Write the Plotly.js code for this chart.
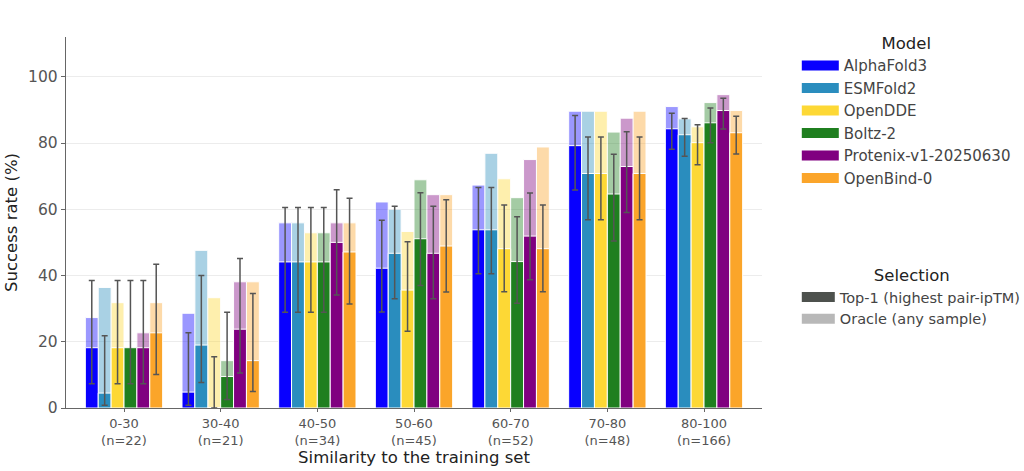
<!DOCTYPE html>
<html>
<head>
<meta charset="utf-8">
<script src="https://cdn.plot.ly/plotly-3.0.1.min.js"></script>
<style>
  html, body { margin: 0; padding: 0; background: #fff; }
  #chart { width: 1024px; height: 471px; }
</style>
</head>
<body>
<div id="chart"></div>
<script>
// similarity bins and number of targets in each
const categories = ['0-30', '30-40', '40-50', '50-60', '60-70', '70-80', '80-100'];
const counts = [22, 21, 34, 45, 52, 48, 166];

const models = ['AlphaFold3', 'ESMFold2', 'OpenDDE', 'Boltz-2', 'Protenix-v1-20250630', 'OpenBind-0'];
const colors = ['#0800ff', '#2a8dbe', '#fdd835', '#1f7f1f', '#800080', '#fba52a'];

// Top-1 (highest pair-ipTM) success rate, %
const top1 = [
  [18.2, 4.8, 44.1, 42.2, 53.8, 79.2, 84.3],
  [4.5, 19.0, 44.1, 46.7, 53.8, 70.8, 82.5],
  [18.2, 0.0, 44.1, 35.6, 48.1, 70.8, 80.1],
  [18.2, 9.5, 44.1, 51.1, 44.2, 64.6, 86.1],
  [18.2, 23.8, 50.0, 46.7, 51.9, 72.9, 89.8],
  [22.7, 14.3, 47.1, 48.9, 48.1, 70.8, 83.1]
];

// Oracle (any sample) success rate, %
const oracle = [
  [27.3, 28.6, 55.9, 62.2, 67.3, 89.6, 91.0],
  [36.4, 47.6, 55.9, 60.0, 76.9, 89.6, 87.3],
  [31.8, 33.3, 52.9, 53.3, 69.2, 89.6, 84.9],
  [18.2, 14.3, 52.9, 68.9, 63.5, 83.3, 92.2],
  [22.7, 38.1, 55.9, 64.4, 75.0, 87.5, 94.6],
  [31.8, 38.1, 55.9, 64.4, 78.8, 89.6, 89.8]
];

// confidence interval of the Top-1 rate, lower / upper bound, %
const ciLow = [
  [7.3, 0.8, 28.9, 29.0, 40.5, 65.8, 78.1],
  [0.8, 7.7, 28.9, 33.0, 40.5, 56.8, 76.0],
  [7.3, 0.0, 28.9, 23.2, 35.1, 56.8, 73.4],
  [7.3, 2.6, 28.9, 37.0, 31.6, 50.4, 80.1],
  [7.3, 10.6, 34.1, 33.0, 38.7, 59.0, 84.2],
  [10.1, 5.0, 31.4, 35.0, 35.1, 56.8, 76.7]
];
const ciHigh = [
  [38.5, 22.7, 60.5, 56.7, 66.6, 88.3, 89.0],
  [21.8, 40.0, 60.5, 60.9, 66.6, 81.8, 87.4],
  [38.5, 15.5, 60.5, 50.2, 61.3, 81.8, 85.5],
  [38.5, 28.9, 60.5, 65.0, 57.7, 76.6, 90.6],
  [38.5, 45.1, 65.9, 60.9, 64.9, 83.4, 93.5],
  [43.4, 34.6, 63.3, 62.9, 61.3, 81.8, 88.1]
];

const selections = ['Top-1 (highest pair-ipTM)', 'Oracle (any sample)'];
const selectionColors = ['#4d514d', '#b8b8b8'];

const tickText = categories.map((c, i) => c + '<br>(n=' + counts[i] + ')');

let traces = [];

// oracle bars first, so the top-1 bars sit on top of them
models.forEach((m, k) => {
  traces.push({
    type: 'bar',
    x: categories,
    y: oracle[k],
    offsetgroup: 'g' + k,
    marker: { color: colors[k], line: { color: '#ffffff', width: 1 } },
    opacity: 0.4,
    showlegend: false,
    hoverinfo: 'skip'
  });
});

models.forEach((m, k) => {
  traces.push({
    type: 'bar',
    x: categories,
    y: top1[k],
    offsetgroup: 'g' + k,
    marker: { color: colors[k], line: { color: '#ffffff', width: 1 } },
    error_y: {
      type: 'data',
      symmetric: false,
      array: top1[k].map((v, i) => ciHigh[k][i] - v),
      arrayminus: top1[k].map((v, i) => v - ciLow[k][i]),
      color: '#555555',
      thickness: 1.5,
      width: 3
    },
    showlegend: false,
    hoverinfo: 'skip'
  });
});

// legend entries (thick lines give the wide rectangles)
models.forEach((m, k) => {
  traces.push({
    type: 'scatter', mode: 'lines',
    x: [null], y: [null],
    name: m,
    line: { color: colors[k], width: 10 },
    legend: 'legend'
  });
});
selections.forEach((s, k) => {
  traces.push({
    type: 'scatter', mode: 'lines',
    x: [null], y: [null],
    name: s,
    line: { color: selectionColors[k], width: 10 },
    legend: 'legend2'
  });
});

let layout = {
  width: 1024,
  height: 471,
  margin: { l: 66, r: 262, t: 37, b: 63, autoexpand: false },
  paper_bgcolor: '#ffffff',
  plot_bgcolor: '#ffffff',
  font: { family: 'DejaVu Sans', color: '#444444' },
  barmode: 'group',
  bargap: 0.2,
  bargroupgap: 0,
  xaxis: {
    type: 'category',
    range: [-0.6, 6.6],
    tickmode: 'array',
    tickvals: categories,
    ticktext: tickText,
    tickfont: { size: 13, color: '#555555' },
    showline: true,
    linecolor: '#666666',
    linewidth: 1.2,
    ticks: 'outside',
    ticklen: 3,
    tickcolor: '#666666',
    showgrid: false,
    zeroline: false,
    title: { text: 'Similarity to the training set', font: { size: 16.5, color: '#222222' }, standoff: 4 }
  },
  yaxis: {
    range: [0, 112],
    tickvals: [0, 20, 40, 60, 80, 100],
    tickfont: { size: 15.5, color: '#555555' },
    showline: true,
    linecolor: '#666666',
    linewidth: 1.2,
    ticks: 'outside',
    ticklen: 4,
    tickcolor: '#666666',
    showgrid: true,
    gridcolor: '#ececec',
    gridwidth: 1,
    zeroline: false,
    title: { text: 'Success rate (%)', font: { size: 16.5, color: '#222222' }, standoff: 6 }
  },
  legend: {
    x: 1.05, y: 1.025,
    xanchor: 'left', yanchor: 'top',
    font: { family: 'DejaVu Sans', size: 15, color: '#444444' },
    itemwidth: 37,
    title: { text: 'Model', side: 'top center', font: { size: 16.5, color: '#222222' } },
    bgcolor: 'rgba(0,0,0,0)',
    itemclick: false
  },
  legend2: {
    x: 1.05, y: 0.4,
    xanchor: 'left', yanchor: 'top',
    font: { family: 'DejaVu Sans', size: 14.5, color: '#444444' },
    itemwidth: 33,
    title: { text: 'Selection', side: 'top center', font: { size: 16.5, color: '#222222' } },
    bgcolor: 'rgba(0,0,0,0)',
    itemclick: false
  },
  showlegend: true
};

Plotly.newPlot('chart', traces, layout, { displayModeBar: false, staticPlot: true });
</script>
</body>
</html>
